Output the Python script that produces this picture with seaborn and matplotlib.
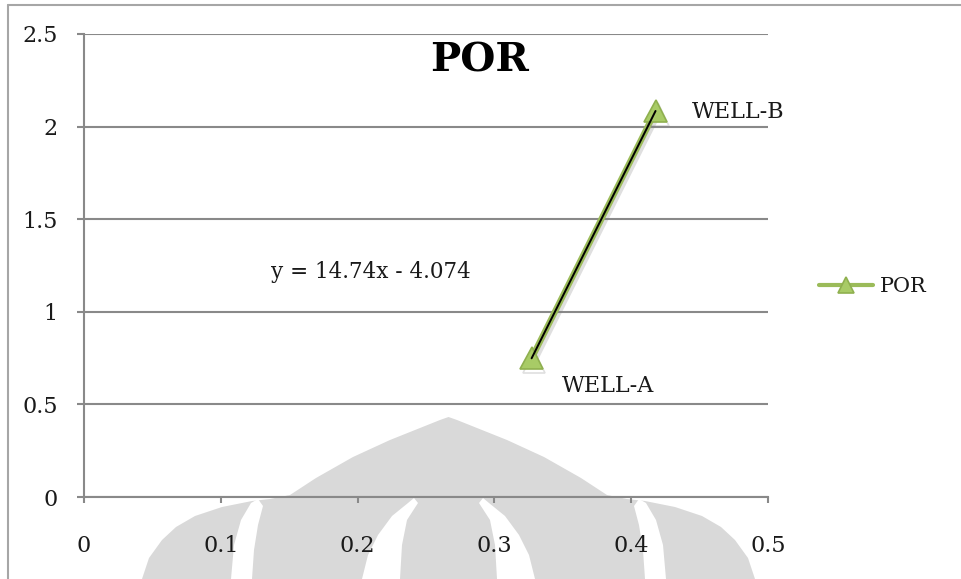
import numpy as np
import pandas as pd
import matplotlib
matplotlib.use("Agg")
import matplotlib.pyplot as plt
from matplotlib.patches import Polygon
from matplotlib.lines import Line2D
import matplotlib.patheffects as pe
import seaborn as sns

# Porosity data for the two wells
wells = ["WELL-A", "WELL-B"]
por_x = [0.3272, 0.4178]
por_y = [0.749, 2.084]
series_name = "POR"

# Linear trendline coefficients (y = slope * x + intercept)
trend_slope = 14.74
trend_intercept = -4.074

x_ticks = [0, 0.1, 0.2, 0.3, 0.4, 0.5]
y_ticks = [0, 0.5, 1, 1.5, 2, 2.5]
x_tick_labels = ["0", "0.1", "0.2", "0.3", "0.4", "0.5"]
y_tick_labels = ["0", "0.5", "1", "1.5", "2", "2.5"]

sns.set_theme(style="white")
plt.rcParams["font.family"] = ["DejaVu Serif"]

W, H = 961, 579
fig = plt.figure(figsize=(W / 100, H / 100), dpi=100)
fig.patch.set_facecolor("white")


def fp(pts):
    """Pixel coordinates (origin top-left) -> figure fraction."""
    return [(x / W, 1 - y / H) for x, y in pts]


def mirror(pts, cx=448.5):
    return [(2 * cx - x, y) for x, y in pts]


# Faint background emblem
grey = "#d9d9d9"
left_outline = [(142, 579), (149, 558), (162, 540), (176, 527), (195, 516),
                (222, 507), (252, 501), (270, 499), (290, 495), (316, 478),
                (353, 457), (390, 440), (420, 428), (440, 420), (448.5, 417)]
outline = left_outline + mirror(left_outline[:-1])[::-1]
fig.patches.append(Polygon(fp(outline), closed=True, transform=fig.transFigure,
                           facecolor=grey, edgecolor="none", zorder=-2))
gap_a = [(258, 499), (251, 503), (241, 520), (234, 545), (231, 579),
         (252, 579), (254, 550), (258, 525), (263, 506)]
gap_b = [(414, 498), (408, 503), (392, 516), (378, 535), (368, 555), (362, 579),
         (400, 579), (402, 545), (407, 520), (418, 503)]
for g in (gap_a, gap_b, mirror(gap_a), mirror(gap_b)):
    fig.patches.append(Polygon(fp(g), closed=True, transform=fig.transFigure,
                               facecolor="white", edgecolor="none", zorder=-1))

# Chart-area border (left and top edges)
border_c = "#a6a6a6"
fig.add_artist(Line2D([8 / W, 8 / W], [0, 1 - 5 / H], transform=fig.transFigure,
                      color=border_c, lw=1.5))
fig.add_artist(Line2D([8 / W, 1], [1 - 5 / H, 1 - 5 / H], transform=fig.transFigure,
                      color=border_c, lw=1.5))

# Plot area
ax = fig.add_axes([84 / W, (H - 497) / H, (768 - 84) / W, (497 - 34) / H])
ax.set_facecolor("none")

df = pd.DataFrame({"x": por_x, "y": por_y, "well": wells})
green = "#9bbb59"
sns.lineplot(data=df, x="x", y="y", ax=ax, color=green, linewidth=4.5,
             marker="^", markersize=16, markerfacecolor="#a8cb66",
             markeredgecolor="#8fb04f", markeredgewidth=1.2, label=series_name,
             path_effects=[pe.SimpleLineShadow(offset=(1.5, -2.5), shadow_color="#808080",
                                               alpha=0.25), pe.Normal()],
             zorder=3)

# Trendline across the data range
tx = np.array([min(por_x), max(por_x)])
ax.plot(tx, trend_slope * tx + trend_intercept, color="black", lw=1.4, zorder=4)

txt_size = 16
ax.text(0.2098, 1.215, f"y = {trend_slope:.2f}x - {abs(trend_intercept):.3f}",
        ha="center", va="center", fontsize=15.5, color="#1a1a1a")

# Point labels
offsets = {"WELL-A": (22, -20), "WELL-B": (26, -1)}
for name, px, py in zip(wells, por_x, por_y):
    ax.annotate(name, (px, py), xytext=offsets[name], textcoords="offset points",
                ha="left", va="center", fontsize=txt_size, color="#1a1a1a")

ax.set_xlim(0, 0.5)
ax.set_ylim(0, 2.5)
ax.set_xticks(x_ticks)
ax.set_xticklabels(x_tick_labels)
ax.set_yticks(y_ticks)
ax.set_yticklabels(y_tick_labels)
ax.set_xlabel("")
ax.set_ylabel("")

axis_c = "#898989"
ax.yaxis.grid(True, color=axis_c, lw=1.5)
ax.xaxis.grid(False)
for s in ("top", "right"):
    ax.spines[s].set_visible(False)
for s in ("left", "bottom"):
    ax.spines[s].set_color(axis_c)
    ax.spines[s].set_linewidth(1.5)
ax.tick_params(axis="y", which="major", left=True, length=5, width=1.5, color=axis_c,
               direction="out", pad=14, labelsize=txt_size, labelcolor="#1a1a1a")
ax.tick_params(axis="x", which="major", bottom=True, length=4.5, width=1.5, color=axis_c,
               direction="out", pad=23, labelsize=txt_size, labelcolor="#1a1a1a")

fig.text(480 / W, 1 - 61 / H, "POR", ha="center", va="center", fontsize=29,
         fontweight="bold", color="black")

leg = ax.legend(loc="center left", bbox_to_anchor=(819 / W, 1 - 287 / H),
                bbox_transform=fig.transFigure, frameon=False, fontsize=15,
                handlelength=2.6, handletextpad=0.3, borderpad=0, borderaxespad=0)
for h in leg.legend_handles:
    h.set_markersize(11)
    h.set_linewidth(3)
    h.set_path_effects([])
for t in leg.get_texts():
    t.set_color("#1a1a1a")

fig.savefig("out.png", dpi=100)
